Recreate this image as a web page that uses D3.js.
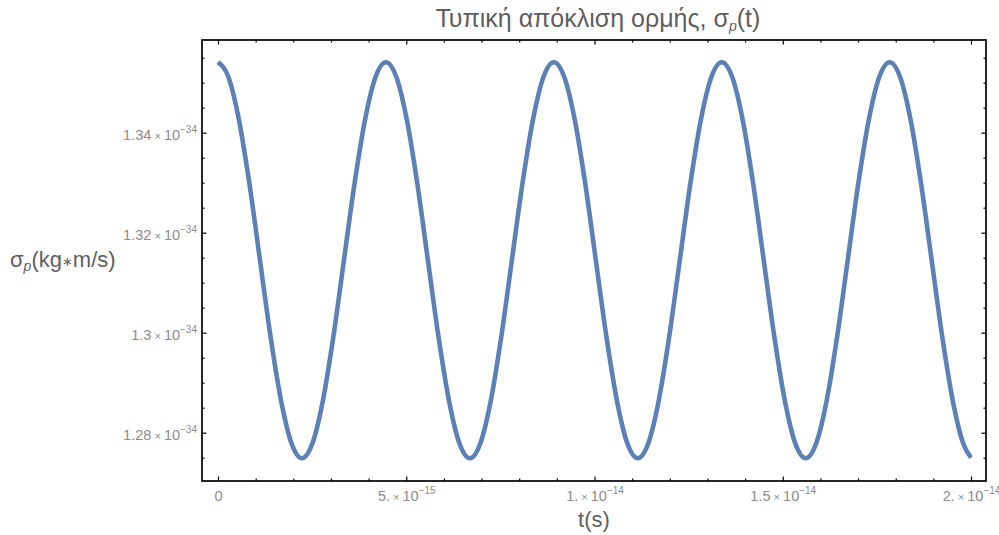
<!DOCTYPE html>
<html>
<head>
<meta charset="utf-8">
<script src="https://cdn.jsdelivr.net/npm/d3@7"></script>
<style>
  html, body { margin: 0; padding: 0; background: #fff; }
  svg { display: block; font-family: "Liberation Sans", Arial, "DejaVu Sans", sans-serif; }
</style>
</head>
<body>
<svg id="chart" width="999" height="535"></svg>
<script>
// time in femtoseconds (1e-15 s)
const timeFs = [0,0.279,0.558,0.836,1.115,1.394,1.673,1.951,2.230,2.509,2.788,3.066,3.345,3.624,3.903,4.181,
  4.460,4.739,5.018,5.296,5.575,5.854,6.133,6.411,6.690,6.969,7.248,7.526,7.805,8.084,8.363,8.641,
  8.920,9.199,9.478,9.756,10.035,10.314,10.593,10.871,11.150,11.429,11.708,11.986,12.265,12.544,12.823,13.101,
  13.380,13.659,13.938,14.216,14.495,14.774,15.053,15.331,15.610,15.889,16.168,16.446,16.725,17.004,17.283,17.561,
  17.840,18.119,18.398,18.676,18.955,19.234,19.513,19.791,20.0];
// sigma_p in units of 1e-34 kg*m/s
const sigmaP = [1.3541,1.3511,1.3425,1.3297,1.3145,1.2993,1.2865,1.2779,1.2749,1.2779,1.2865,1.2993,1.3145,1.3297,1.3425,1.3511,
  1.3541,1.3511,1.3425,1.3297,1.3145,1.2993,1.2865,1.2779,1.2749,1.2779,1.2865,1.2993,1.3145,1.3297,1.3425,1.3511,
  1.3541,1.3511,1.3425,1.3297,1.3145,1.2993,1.2865,1.2779,1.2749,1.2779,1.2865,1.2993,1.3145,1.3297,1.3425,1.3511,
  1.3541,1.3511,1.3425,1.3297,1.3145,1.2993,1.2865,1.2779,1.2749,1.2779,1.2865,1.2993,1.3145,1.3297,1.3425,1.3511,
  1.3541,1.3511,1.3425,1.3297,1.3145,1.2993,1.2865,1.2779,1.2750];

const xMajorTicks = [0, 5, 10, 15, 20];
const xTickMantissa = ["0", "5.", "1.", "1.5", "2."];
const xTickExponent = ["", "−15", "−14", "−14", "−14"];
const xMinorTicks = [1,2,3,4,6,7,8,9,11,12,13,14,16,17,18,19];

const yMajorTicks = [1.28, 1.30, 1.32, 1.34];
const yTickMantissa = ["1.28", "1.3", "1.32", "1.34"];
const yTickExponent = ["−34", "−34", "−34", "−34"];
const yMinorTicks = [1.275, 1.285, 1.29, 1.295, 1.305, 1.31, 1.315, 1.325, 1.33, 1.335, 1.345, 1.35, 1.355];

const titleMain = "Τυπική απόκλιση ορμής, σ";
const xLabel = "t(s)";

const svg = d3.select("#chart");
const L = 202, R = 986, T = 40, B = 481;

const x = d3.scaleLinear().domain([-0.425, 20.398]).range([L, R]);
const y = d3.scaleLinear().domain([1.27034, 1.35854]).range([B, T]);

// curve
const pts = timeFs.map((t, i) => [t, sigmaP[i]]);
const line = d3.line().x(d => x(d[0])).y(d => y(d[1])).curve(d3.curveMonotoneX);
svg.append("path").datum(pts)
  .attr("d", line)
  .attr("fill", "none")
  .attr("stroke", "#5E81B5")
  .attr("stroke-width", 4.6)
  .attr("stroke-linejoin", "round");

// axes ticks (inward)
function styleAxis(g) {
  g.select(".domain").remove();
  g.selectAll(".tick line").attr("stroke", "#000").attr("stroke-width", 1.2);
}
const majLen = 4.5, minLen = 2.5;
svg.append("g").attr("transform", `translate(0,${B})`)
  .call(d3.axisBottom(x).tickValues(xMinorTicks).tickSize(-minLen).tickFormat("")).call(styleAxis);
svg.append("g").attr("transform", `translate(0,${T})`)
  .call(d3.axisTop(x).tickValues(xMinorTicks).tickSize(-minLen).tickFormat("")).call(styleAxis);
svg.append("g").attr("transform", `translate(0,${T})`)
  .call(d3.axisTop(x).tickValues(xMajorTicks).tickSize(-majLen).tickFormat("")).call(styleAxis);
svg.append("g").attr("transform", `translate(${L},0)`)
  .call(d3.axisLeft(y).tickValues(yMinorTicks).tickSize(-minLen).tickFormat("")).call(styleAxis);
svg.append("g").attr("transform", `translate(${R},0)`)
  .call(d3.axisRight(y).tickValues(yMinorTicks).tickSize(-minLen).tickFormat("")).call(styleAxis);
svg.append("g").attr("transform", `translate(${R},0)`)
  .call(d3.axisRight(y).tickValues(yMajorTicks).tickSize(-majLen).tickFormat("")).call(styleAxis);

const tickColor = "#8c8c8c";
const fs = 14.5, supFs = 10;

function fillLabel(text, mant, expo) {
  text.text(null);
  text.append("tspan").text(mant);
  if (expo) {
    text.append("tspan").attr("font-size", 11).text(" × ");
    text.append("tspan").text("10");
    text.append("tspan").attr("font-size", supFs).attr("dy", -6.5).text(expo);
  }
}

const xAx = svg.append("g").attr("transform", `translate(0,${B})`)
  .call(d3.axisBottom(x).tickValues(xMajorTicks).tickSize(-majLen).tickFormat(""));
styleAxis(xAx);
xAx.selectAll(".tick text")
  .attr("y", 19.5).attr("dy", 0)
  .attr("fill", tickColor).attr("font-size", fs)
  .each(function(d, i) { fillLabel(d3.select(this), xTickMantissa[i], xTickExponent[i]); });

const yAx = svg.append("g").attr("transform", `translate(${L},0)`)
  .call(d3.axisLeft(y).tickValues(yMajorTicks).tickSize(-majLen).tickFormat(""));
styleAxis(yAx);
yAx.selectAll(".tick text")
  .attr("x", -5).attr("dy", 6.5)
  .attr("fill", tickColor).attr("font-size", fs).attr("text-anchor", "end")
  .each(function(d, i) { fillLabel(d3.select(this), yTickMantissa[i], yTickExponent[i]); });

// frame
svg.append("rect").attr("x", L).attr("y", T).attr("width", R - L).attr("height", B - T)
  .attr("fill", "none").attr("stroke", "#000").attr("stroke-width", 1.7);

// title
const title = svg.append("text").attr("x", (L + R) / 2 + 4).attr("y", 27)
  .attr("text-anchor", "middle").attr("font-size", 25).attr("fill", "#5f5f5f");
title.append("tspan").text(titleMain);
title.append("tspan").attr("font-size", 14).attr("font-style", "italic").attr("dy", 4).text("p");
title.append("tspan").attr("dy", -4).text("(t)");

// x label
svg.append("text").attr("x", (L + R) / 2).attr("y", 527)
  .attr("text-anchor", "middle").attr("font-size", 22).attr("fill", "#5f5f5f").text(xLabel);

// y label
const yl = svg.append("text").attr("x", 10).attr("y", 267)
  .attr("font-size", 22).attr("fill", "#5f5f5f");
yl.append("tspan").text("σ");
yl.append("tspan").attr("font-size", 14).attr("font-style", "italic").attr("dy", 4).text("p");
yl.append("tspan").attr("dy", -4).text("(kg");
yl.append("tspan").attr("font-size", 13).attr("dy", -1).text("∗");
yl.append("tspan").attr("dy", 1).text("m/s)");
</script>
</body>
</html>
